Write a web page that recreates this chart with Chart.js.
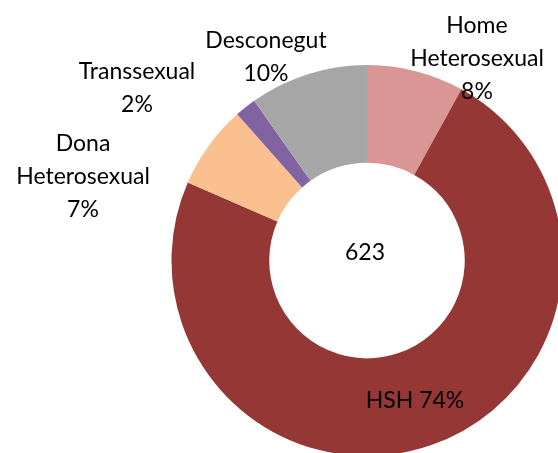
<!DOCTYPE html>
<html>
<head>
<meta charset="utf-8">
<script src="https://cdn.jsdelivr.net/npm/chart.js@4/dist/chart.umd.min.js"></script>
<style>
  html, body { margin: 0; padding: 0; background: #fff; }
  #wrap { width: 558px; height: 453px; overflow: hidden; position: relative; }
  #chart { position: absolute; left: 0; top: 0; }
</style>
</head>
<body>
<div id="wrap"><canvas id="chart" width="600" height="500"></canvas></div>
<script>
  const categories = ['Home Heterosexual', 'HSH', 'Dona Heterosexual', 'Transsexual', 'Desconegut'];
  const counts = [50, 458, 43, 11, 61];
  const labelLines = [['Home', 'Heterosexual'], ['HSH'], ['Dona', 'Heterosexual'], ['Transsexual'], ['Desconegut']];
  const colors = ['#D99694', '#953735', '#FAC090', '#8064A2', '#A6A6A6'];

  const total = counts.reduce((a, b) => a + b, 0);
  const pct = (v) => Math.round(v / total * 100) + '%';

  // label anchor offsets from the doughnut centre (first line), Excel-style best fit
  const labelOffsets = [[110, -235], [48, 140], [-284, -117], [-230, -189], [-101, -220]];
  const lineH = 33;
  const font = '23px Lato, "Open Sans", sans-serif';

  const labelsPlugin = {
    id: 'sliceLabels',
    afterDraw(chart) {
      const ctx = chart.ctx;
      const arc = chart.getDatasetMeta(0).data[0];
      const cx = arc.x, cy = arc.y;
      ctx.save();
      ctx.font = font;
      ctx.fillStyle = '#000';
      ctx.textAlign = 'center';
      ctx.textBaseline = 'middle';
      categories.forEach((c, i) => {
        let lines = labelLines[i].slice();
        if (lines.length === 1 && c === 'HSH') lines = [lines[0] + ' ' + pct(counts[i])];
        else lines.push(pct(counts[i]));
        const [dx, dy] = labelOffsets[i];
        lines.forEach((t, k) => ctx.fillText(t, cx + dx, cy + dy + k * lineH));
      });
      ctx.fillText(String(total), cx - 2, cy - 8);
      ctx.restore();
    }
  };

  new Chart(document.getElementById('chart').getContext('2d'), {
    type: 'doughnut',
    data: {
      labels: categories,
      datasets: [{ data: counts, backgroundColor: colors, borderWidth: 0 }],
    },
    options: {
      responsive: false,
      devicePixelRatio: 1,
      animation: false,
      cutout: '50%',
      layout: { padding: { left: 171.5, top: 65, right: 37.5, bottom: 44 } },
      plugins: { legend: { display: false }, tooltip: { enabled: false } },
    },
    plugins: [labelsPlugin],
  });
</script>
</body>
</html>
